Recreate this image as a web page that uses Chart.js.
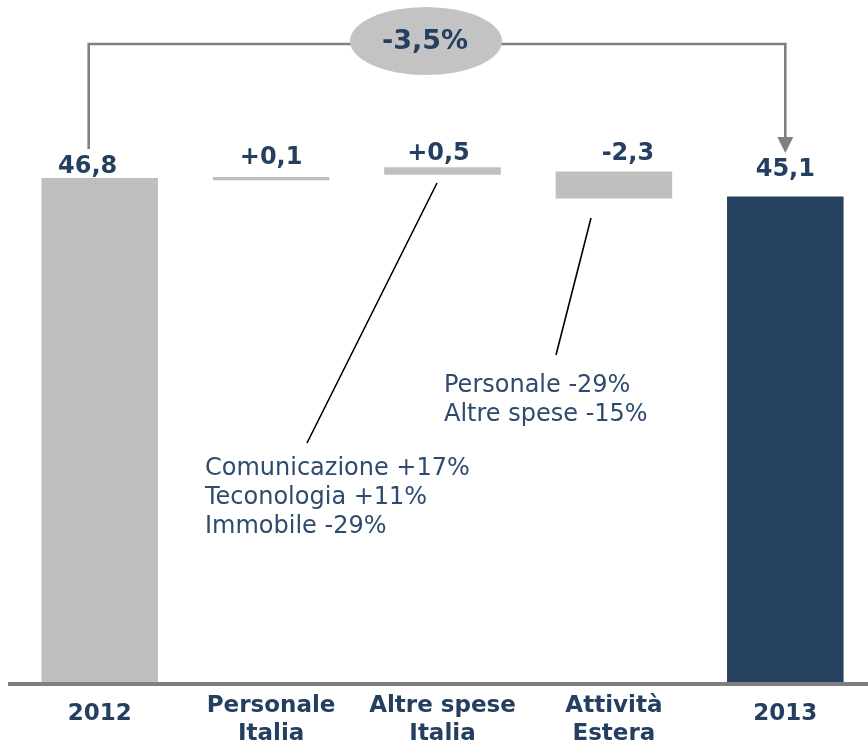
<!DOCTYPE html>
<html>
<head>
<meta charset="utf-8">
<script src="https://cdn.jsdelivr.net/npm/chart.js@4.4.1/dist/chart.umd.min.js"></script>
<style>
  html, body { margin: 0; padding: 0; background: #fff; overflow: hidden; }
  #wrap { width: 872px; height: 745px; position: relative; }
</style>
</head>
<body>
<div id="wrap"><canvas id="waterfall"></canvas></div>
<script>
// waterfall costi 2012 -> 2013
const categories = [["2012"], ["Personale", "Italia"], ["Altre spese", "Italia"], ["Attività", "Estera"], ["2013"]];
const barLow  = [0, 46.6, 47.1, 44.9, 0];
const barHigh = [46.8, 46.9, 47.8, 47.4, 45.1];
const valueLabels = ["46,8", "+0,1", "+0,5", "-2,3", "45,1"];
const totalChange = "-3,5%";
const noteItalia = ["Comunicazione +17%", "Teconologia +11%", "Immobile -29%"];
const noteEstero = ["Personale -29%", "Altre spese -15%"];

const navy = "#243F60";
const grey = "#BFBFBF";

const overlay = {
  id: "overlay",
  afterDatasetsDraw(chart) {
    const ctx = chart.ctx;
    const bars = chart.getDatasetMeta(0).data;
    const yScale = chart.scales.y;
    const base = yScale.getPixelForValue(0);

    ctx.save();

    // axis line
    ctx.fillStyle = "#7F7F7F";
    ctx.fillRect(8, base - 1, 860, 4);

    // value labels above bars
    const dx = [-12, 0, -4, 14, 0];
    const dy = [5, 13, 7, 12, 20];
    ctx.font = "bold 24px 'DejaVu Sans'";
    ctx.fillStyle = navy;
    ctx.textAlign = "center";
    ctx.textBaseline = "alphabetic";
    bars.forEach((b, i) => {
      ctx.fillText(valueLabels[i], b.x + dx[i], Math.min(b.y, b.base) - dy[i]);
    });

    // category labels
    ctx.font = "bold 23px 'DejaVu Sans'";
    ctx.textBaseline = "middle";
    bars.forEach((b, i) => {
      const lines = categories[i];
      if (lines.length === 1) {
        ctx.fillText(lines[0], b.x, base + 31);
      } else {
        ctx.fillText(lines[0], b.x, base + 23);
        ctx.fillText(lines[1], b.x, base + 51);
      }
    });

    // bracket with arrow
    const xL = bars[0].x - 11;
    const xR = bars[4].x;
    const yTop = 44;
    ctx.strokeStyle = "#808080";
    ctx.lineWidth = 2.6;
    ctx.beginPath();
    ctx.moveTo(xL, bars[0].y - 29);
    ctx.lineTo(xL, yTop);
    ctx.lineTo(xR, yTop);
    ctx.lineTo(xR, 140);
    ctx.stroke();
    ctx.fillStyle = "#808080";
    ctx.beginPath();
    ctx.moveTo(xR - 8, 137);
    ctx.lineTo(xR + 8, 137);
    ctx.lineTo(xR, 153);
    ctx.closePath();
    ctx.fill();

    // ellipse with total change
    ctx.fillStyle = "#C3C3C3";
    ctx.beginPath();
    ctx.ellipse(426, 41, 76, 34, 0, 0, Math.PI * 2);
    ctx.fill();
    ctx.fillStyle = navy;
    ctx.font = "bold 27px 'DejaVu Sans'";
    ctx.textBaseline = "middle";
    ctx.fillText(totalChange, 425, 42);

    // leader lines
    ctx.strokeStyle = "#000";
    ctx.lineWidth = 1.6;
    ctx.beginPath();
    ctx.moveTo(437, 183);
    ctx.lineTo(307, 443);
    ctx.moveTo(591, 218);
    ctx.lineTo(556, 355);
    ctx.stroke();

    // notes
    ctx.fillStyle = "#2E4A6E";
    ctx.font = "24px 'DejaVu Sans'";
    ctx.textAlign = "left";
    noteItalia.forEach((t, i) => ctx.fillText(t, 205, 469 + i * 29));
    noteEstero.forEach((t, i) => ctx.fillText(t, 444, 386 + i * 29));

    ctx.restore();
  }
};

const ctx = document.getElementById("waterfall").getContext("2d");
new Chart(ctx, {
  type: "bar",
  data: {
    labels: categories.map(c => c.join(" ")),
    datasets: [{
      data: barLow.map((lo, i) => [lo, barHigh[i]]),
      backgroundColor: [grey, grey, grey, grey, "#264060"],
      borderWidth: 0,
      borderSkipped: false,
      barPercentage: 0.68,
      categoryPercentage: 1
    }]
  },
  options: {
    responsive: true,
    maintainAspectRatio: false,
    animation: false,
    layout: { padding: { left: 14, right: 1, top: 0, bottom: 62 } },
    plugins: { legend: { display: false }, tooltip: { enabled: false } },
    scales: {
      x: { display: false },
      y: { display: false, min: 0, max: 63.3 }
    }
  },
  plugins: [overlay]
});
</script>
</body>
</html>
